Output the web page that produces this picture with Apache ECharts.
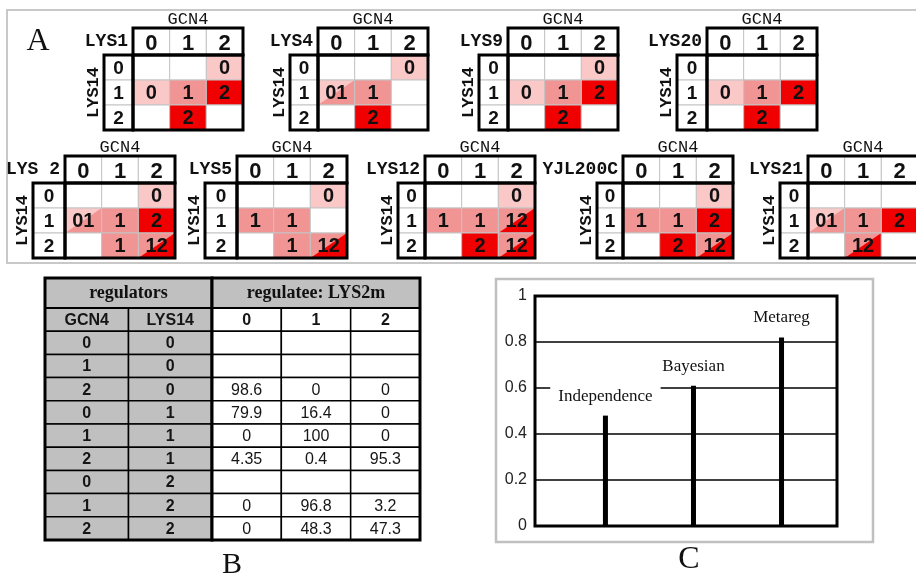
<!DOCTYPE html>
<html><head><meta charset="utf-8">
<script src="https://cdn.jsdelivr.net/npm/echarts@6/dist/echarts.min.js"></script>
<style>html,body{margin:0;padding:0;background:#fff}#c{width:916px;height:577px}</style>
</head><body><div id="c"></div>
<script>
// ================= DATA =================
// Panel A: state levels and discretized-probability cell codes (row = LYS14 state, col = GCN4 state)
const gcn4Levels = ['0', '1', '2'];
const lys14Levels = ['0', '1', '2'];
const miniNames = ['LYS1', 'LYS4', 'LYS9', 'LYS20', 'LYS 2', 'LYS5', 'LYS12', 'YJL200C', 'LYS21'];
const cellsLYS1 = [['', '', '0'], ['0', '1', '2'], ['', '2', '']];
const cellsLYS4 = [['', '', '0'], ['01', '1', ''], ['', '2', '']];
const cellsLYS9 = [['', '', '0'], ['0', '1', '2'], ['', '2', '']];
const cellsLYS20 = [['', '', ''], ['0', '1', '2'], ['', '2', '']];
const cellsLYS2 = [['', '', '0'], ['01', '1', '2'], ['', '1', '12']];
const cellsLYS5 = [['', '', '0'], ['1', '1', ''], ['', '1', '12']];
const cellsLYS12 = [['', '', '0'], ['1', '1', '12'], ['', '2', '12']];
const cellsYJL200C = [['', '', '0'], ['1', '1', '2'], ['', '2', '12']];
const cellsLYS21 = [['', '', ''], ['01', '1', '2'], ['', '12', '']];
const miniCells = [cellsLYS1, cellsLYS4, cellsLYS9, cellsLYS20, cellsLYS2, cellsLYS5, cellsLYS12, cellsYJL200C, cellsLYS21];

// Panel B: conditional probability table
const regulatorCols = ['GCN4', 'LYS14'];
const regulateeStates = ['0', '1', '2'];
const gcn4State = ['0', '1', '2', '0', '1', '2', '0', '1', '2'];
const lys14State = ['0', '0', '0', '1', '1', '1', '2', '2', '2'];
const probState0 = [null, null, 98.6, 79.9, 0, 4.35, null, 0, 0];
const probState1 = [null, null, 0, 16.4, 100, 0.4, null, 96.8, 48.3];
const probState2 = [null, null, 0, 0, 0, 95.3, null, 3.2, 47.3];

// Panel C: method scores
const methods = ['Independence', 'Bayesian', 'Metareg'];
const methodScores = [0.48, 0.61, 0.82];

// ================= LAYOUT / STYLE =================
const miniLayout = [
  {left: 133, top: 55, lw: 29}, {left: 318, top: 55, lw: 28}, {left: 508, top: 55, lw: 29}, {left: 707, top: 55, lw: 30},
  {left: 65, top: 183, lw: 32}, {left: 237, top: 183, lw: 32}, {left: 425, top: 183, lw: 27}, {left: 623, top: 183, lw: 26}, {left: 808, top: 183, lw: 28}
];
const MINI_W = 110, MINI_H = 75, HEAD_H = 27;
const levelColor = {'0': '#fbc8c8', '1': '#f19494', '2': '#f00000'};
const SANS = '"Liberation Sans", Arial, sans-serif';
const MONO = '"Liberation Mono", "Courier New", monospace';
const SERIF = '"Liberation Serif", "Times New Roman", serif';

const grids = [], xAxes = [], yAxes = [], series = [];

function txt(text, x, y, size, weight, family, align) {
  return {type: 'text', style: {text: text, x: x, y: y, fontSize: size, fontWeight: weight, fontFamily: family,
    fill: '#111', align: align || 'center', verticalAlign: 'middle'}};
}

// ---------- Panel A mini tables ----------
miniCells.forEach((cells, i) => {
  const L = miniLayout[i];
  grids.push({left: L.left, top: L.top, width: MINI_W, height: MINI_H, outerBoundsMode: 'none'});
  xAxes.push({type: 'value', gridIndex: i, min: 0, max: 3, show: false});
  yAxes.push({type: 'value', gridIndex: i, min: 0, max: 3, inverse: true, show: false});
  const meta = [], data = [];
  cells.forEach((row, r) => row.forEach((code, c) => { data.push([c, r]); meta.push({kind: 'cell', code: code}); }));
  gcn4Levels.forEach((lab, c) => { data.push([c, 0]); meta.push({kind: 'head', text: lab}); });
  lys14Levels.forEach((lab, r) => { data.push([0, r]); meta.push({kind: 'rowlab', text: lab}); });
  data.push([0, 0]); meta.push({kind: 'frame'});
  const name = miniNames[i];
  series.push({
    type: 'custom', xAxisIndex: i, yAxisIndex: i, clip: false, silent: true, data: data,
    renderItem: function (params, api) {
      const m = meta[params.dataIndex];
      const c = api.value(0), r = api.value(1);
      if (m.kind === 'cell') {
        const p0 = api.coord([c, r]), p1 = api.coord([c + 1, r + 1]);
        const x = p0[0], y = p0[1], w = p1[0] - x, h = p1[1] - y;
        const ch = [{type: 'rect', shape: {x: x, y: y, width: w, height: h}, style: {fill: m.code ? levelColor[m.code[0]] : '#fff'}}];
        if (m.code.length > 1) ch.push({type: 'polygon', shape: {points: [[x, y + h], [x + w, y + h], [x + w, y]]}, style: {fill: levelColor[m.code[1]]}});
        ch.push({type: 'rect', shape: {x: x, y: y, width: w, height: h}, style: {fill: 'none', stroke: '#c4c4c4', lineWidth: 1}});
        if (m.code) ch.push(txt(m.code, x + w / 2, y + h / 2 + 1, 20, 'bold', SANS));
        return {type: 'group', children: ch};
      }
      if (m.kind === 'head') {
        const p0 = api.coord([c, 0]), p1 = api.coord([c + 1, 0]);
        const x = p0[0], w = p1[0] - x, y = p0[1] - HEAD_H;
        return {type: 'group', children: [
          {type: 'rect', shape: {x: x, y: y, width: w, height: HEAD_H}, style: {fill: '#fff', stroke: '#c4c4c4', lineWidth: 1}},
          txt(m.text, x + w / 2, y + HEAD_H / 2 + 2, 22, 'bold', SANS)
        ]};
      }
      if (m.kind === 'rowlab') {
        const p0 = api.coord([0, r]), p1 = api.coord([0, r + 1]);
        const x = p0[0] - L.lw, y = p0[1], h = p1[1] - y;
        return {type: 'group', children: [
          {type: 'rect', shape: {x: x, y: y, width: L.lw, height: h}, style: {fill: '#fff', stroke: '#c4c4c4', lineWidth: 1}},
          txt(m.text, x + L.lw / 2, y + h / 2 + 1, 19, 'bold', SANS)
        ]};
      }
      const a = api.coord([0, 0]), b = api.coord([3, 3]);
      const W = b[0] - a[0], H = b[1] - a[1];
      const st = {fill: 'none', stroke: '#000', lineWidth: 3};
      return {type: 'group', children: [
        {type: 'rect', shape: {x: a[0], y: a[1] - HEAD_H, width: W, height: HEAD_H}, style: st},
        {type: 'rect', shape: {x: a[0] - L.lw, y: a[1], width: L.lw, height: H}, style: st},
        {type: 'rect', shape: {x: a[0], y: a[1], width: W, height: H}, style: st},
        txt(name, a[0] - 5, a[1] - HEAD_H / 2, 18, 'bold', MONO, 'right'),
        txt('GCN4', a[0] + W / 2, a[1] - HEAD_H - 9, 17, 'normal', MONO),
        {type: 'text', x: a[0] - L.lw - 10, y: a[1] + H / 2, rotation: Math.PI / 2,
          style: {text: 'LYS14', x: 0, y: 0, fontSize: 17, fontWeight: 'bold', fontFamily: MONO, fill: '#111', align: 'center', verticalAlign: 'middle'}}
      ]};
    }
  });
});

// ---------- Panel B table ----------
const gL = grids.length;
const TITLE_H = 30;
const rowCats = ['head'].concat(gcn4State.map((g, k) => g + '|' + lys14State[k]));
grids.push({left: 45, top: 308, width: 167, height: 232, outerBoundsMode: 'none'});
grids.push({left: 212, top: 308, width: 208, height: 232, outerBoundsMode: 'none'});
xAxes.push({type: 'category', gridIndex: gL, data: regulatorCols, show: false});
yAxes.push({type: 'category', gridIndex: gL, data: rowCats, inverse: true, show: false});
xAxes.push({type: 'category', gridIndex: gL + 1, data: regulateeStates, show: false});
yAxes.push({type: 'category', gridIndex: gL + 1, data: rowCats, inverse: true, show: false});

function tableSeries(gi, ncol, title, cellText, cellFill, cellFont) {
  const data = [], meta = [];
  for (let r = 0; r < rowCats.length; r++) for (let c = 0; c < ncol; c++) { data.push([c, r]); meta.push('cell'); }
  data.push([0, 0]); meta.push('frame');
  return {
    type: 'custom', xAxisIndex: gi, yAxisIndex: gi, clip: false, silent: true, data: data,
    renderItem: function (params, api) {
      const c = api.value(0), r = api.value(1);
      const sz = api.size([1, 1]);
      if (meta[params.dataIndex] === 'cell') {
        const ctr = api.coord([c, r]);
        const f = cellFont(c, r);
        const t = txt(cellText(c, r), ctr[0], ctr[1] + 1, f[0], f[1], SANS);
        t.style.fill = '#151515';
        return {type: 'group', children: [
          {type: 'rect', shape: {x: ctr[0] - sz[0] / 2, y: ctr[1] - sz[1] / 2, width: sz[0], height: sz[1]},
            style: {fill: cellFill(c, r), stroke: '#000', lineWidth: 1.5}},
          t
        ]};
      }
      const a = api.coord([0, 0]), b = api.coord([ncol - 1, rowCats.length - 1]);
      const x0 = a[0] - sz[0] / 2, x1 = b[0] + sz[0] / 2, y0 = a[1] - sz[1] / 2, y1 = b[1] + sz[1] / 2;
      return {type: 'group', children: [
        {type: 'rect', shape: {x: x0, y: y0 - TITLE_H, width: x1 - x0, height: TITLE_H}, style: {fill: '#c0c0c0', stroke: '#000', lineWidth: 2}},
        txt(title, (x0 + x1) / 2, y0 - TITLE_H / 2, 18, 'bold', SERIF),
        {type: 'rect', shape: {x: x0, y: y0 - TITLE_H, width: x1 - x0, height: y1 - y0 + TITLE_H}, style: {fill: 'none', stroke: '#000', lineWidth: 3}}
      ]};
    }
  };
}
series.push(tableSeries(gL, 2, 'regulators',
  (c, r) => r === 0 ? regulatorCols[c] : [gcn4State, lys14State][c][r - 1],
  () => '#c0c0c0',
  (c, r) => r === 0 ? [16, 'bold'] : [16, 'bold']));
series.push(tableSeries(gL + 1, 3, 'regulatee: LYS2m',
  (c, r) => { if (r === 0) return regulateeStates[c]; const v = [probState0, probState1, probState2][c][r - 1]; return v === null ? '' : String(v); },
  () => '#fff',
  (c, r) => r === 0 ? [16, 'bold'] : [16, 'normal']));

// ---------- Panel C chart ----------
const gC = grids.length;
grids.push({left: 535, top: 296, width: 302, height: 230, show: true, borderColor: '#000', borderWidth: 3, backgroundColor: 'transparent', outerBoundsMode: 'none'});
xAxes.push({type: 'value', gridIndex: gC, min: 0.2, max: 3.63, show: false});
yAxes.push({type: 'value', gridIndex: gC, min: 0, max: 1, interval: 0.2,
  axisLine: {show: false}, axisTick: {show: false},
  axisLabel: {fontSize: 16, color: '#222', fontFamily: SANS, margin: 8},
  splitLine: {show: true, lineStyle: {color: '#000', width: 1.5}}});
series.push({
  type: 'bar', xAxisIndex: gC, yAxisIndex: gC, barWidth: 5, silent: true,
  itemStyle: {color: '#000'},
  data: methods.map((m, k) => [k + 1, methodScores[k]]),
  label: {show: true, position: 'top', distance: 9, formatter: p => methods[p.dataIndex],
    fontFamily: SERIF, fontSize: 17, color: '#111', backgroundColor: '#fff', padding: [2, 8]},
  z: 3
});

const option = {
  animation: false,
  backgroundColor: '#fff',
  grid: grids, xAxis: xAxes, yAxis: yAxes, series: series,
  graphic: [
    {type: 'rect', shape: {x: 7, y: 10, width: 920, height: 253}, style: {fill: 'none', stroke: '#c8c8c8', lineWidth: 2}, z: -1},
    {type: 'rect', shape: {x: 496, y: 279, width: 377, height: 263}, style: {fill: 'none', stroke: '#c0c0c0', lineWidth: 2.5}, z: -1},
    {type: 'text', style: {text: 'A', x: 38, y: 42, fontSize: 32, fontFamily: SERIF, fill: '#111', align: 'center', verticalAlign: 'middle'}},
    {type: 'text', style: {text: 'B', x: 232, y: 565, fontSize: 30, fontFamily: SERIF, fill: '#111', align: 'center', verticalAlign: 'middle'}},
    {type: 'text', style: {text: 'C', x: 689, y: 560, fontSize: 32, fontFamily: SERIF, fill: '#111', align: 'center', verticalAlign: 'middle'}}
  ]
};
const chart = echarts.init(document.getElementById('c'));
chart.setOption(option);
</script></body></html>
